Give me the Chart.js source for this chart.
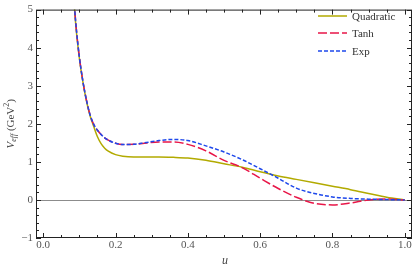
<!DOCTYPE html>
<html>
<head>
<meta charset="utf-8">
<script src="https://cdn.jsdelivr.net/npm/chart.js@4.4.1/dist/chart.umd.min.js"></script>
<style>
  html, body { margin: 0; padding: 0; background: #fff; }
</style>
</head>
<body>
<canvas id="myChart" width="415" height="268"></canvas>
<script>
let uValues = [0.08, 0.09, 0.10, 0.11, 0.12, 0.13, 0.14, 0.15, 0.16, 0.17, 0.18, 0.20, 0.22, 0.25, 0.28, 0.32, 0.36, 0.40, 0.45, 0.50, 0.55, 0.60, 0.65, 0.70, 0.75, 0.80, 0.85, 0.90, 0.95, 1.00];

let quadratic = [5.9, 4.6, 3.72, 3.08, 2.58, 2.2, 1.92, 1.66, 1.48, 1.36, 1.28, 1.19, 1.15, 1.13, 1.13, 1.13, 1.12, 1.10, 1.04, 0.95, 0.86, 0.74, 0.63, 0.54, 0.45, 0.36, 0.27, 0.17, 0.07, 0];
let tanh = [5.9, 4.65, 3.75, 3.1, 2.6, 2.22, 1.98, 1.83, 1.72, 1.63, 1.57, 1.49, 1.455, 1.46, 1.49, 1.52, 1.52, 1.46, 1.29, 1.04, 0.85, 0.57, 0.30, 0.07, -0.09, -0.13, -0.08, 0.0, 0.025, 0];
let exp = [5.9, 4.65, 3.75, 3.1, 2.6, 2.22, 1.98, 1.83, 1.72, 1.63, 1.57, 1.49, 1.455, 1.46, 1.50, 1.56, 1.59, 1.56, 1.42, 1.26, 1.06, 0.82, 0.57, 0.31, 0.17, 0.08, 0.04, 0.02, 0.01, 0];

let seriesNames = ['Quadratic', 'Tanh', 'Exp'];
let seriesColors = ['rgb(178, 170, 0)', 'rgb(232, 22, 72)', 'rgb(30, 72, 235)'];
let seriesDash = [[], [9, 3], [4, 2]];

let xTicks = [0.0, 0.2, 0.4, 0.6, 0.8, 1.0];
let yTicks = [-1, 0, 1, 2, 3, 4, 5];

let serif = "'Liberation Serif', 'Times New Roman', serif";

function toPoints(ys) {
    return uValues.map((u, i) => ({ x: u, y: ys[i] }));
}

// frame, inward ticks, zero line, legend and axis titles
let framePlugin = {
    id: 'frame',
    beforeDatasetsDraw(chart) {
        let c = chart.ctx;
        let a = chart.chartArea;
        let y0 = chart.scales.y.getPixelForValue(0);
        c.save();
        c.strokeStyle = '#8c8c8c';
        c.lineWidth = 1;
        c.beginPath();
        c.moveTo(a.left, Math.round(y0) + 0.5);
        c.lineTo(a.right, Math.round(y0) + 0.5);
        c.stroke();
        c.restore();
    },
    afterDraw(chart) {
        let c = chart.ctx;
        let a = chart.chartArea;
        let xs = chart.scales.x;
        let ys = chart.scales.y;
        c.save();
        c.strokeStyle = '#222';
        c.lineWidth = 1;
        c.strokeRect(a.left + 0.5, a.top + 0.5, a.right - a.left - 1, a.bottom - a.top - 1);

        c.beginPath();
        for (let i = 0; i <= 20; i++) {
            let v = i * 0.05;
            let px = Math.round(xs.getPixelForValue(v)) + 0.5;
            let len = (i % 4 === 0) ? 5 : 3;
            c.moveTo(px, a.bottom); c.lineTo(px, a.bottom - len);
            c.moveTo(px, a.top); c.lineTo(px, a.top + len);
        }
        for (let i = -5; i <= 25; i++) {
            let v = i * 0.2;
            let py = Math.round(ys.getPixelForValue(v)) + 0.5;
            let len = (i % 5 === 0) ? 5 : 3;
            c.moveTo(a.left, py); c.lineTo(a.left + len, py);
            c.moveTo(a.right, py); c.lineTo(a.right - len, py);
        }
        c.stroke();

        // legend
        c.textBaseline = 'middle';
        c.textAlign = 'left';
        c.font = '11px ' + serif;
        let legY = [16, 33, 51];
        seriesNames.forEach((name, i) => {
            c.strokeStyle = seriesColors[i];
            c.lineWidth = 1.5;
            c.setLineDash(seriesDash[i]);
            c.beginPath();
            c.moveTo(318, legY[i]);
            c.lineTo(347, legY[i]);
            c.stroke();
            c.setLineDash([]);
            c.fillStyle = '#333';
            c.fillText(name, 352, legY[i] + 1);
        });

        // x title
        c.fillStyle = '#444';
        c.textAlign = 'center';
        c.font = 'italic 12px ' + serif;
        c.fillText('u', (a.left + a.right) / 2 + 1, 261);

        // y title with subscript and superscript
        let parts = [
            { t: 'V', f: 'italic 11px ' + serif, dy: 0 },
            { t: 'eff', f: 'italic 8px ' + serif, dy: 2.5 },
            { t: ' (GeV', f: '11px ' + serif, dy: 0 },
            { t: '2', f: '8px ' + serif, dy: -4 },
            { t: ')', f: '11px ' + serif, dy: 0 }
        ];
        let total = 0;
        parts.forEach(p => { c.font = p.f; p.w = c.measureText(p.t).width; total += p.w; });
        c.translate(11, (a.top + a.bottom) / 2);
        c.rotate(-Math.PI / 2);
        c.textAlign = 'left';
        let x = -total / 2;
        parts.forEach(p => {
            c.font = p.f;
            c.fillText(p.t, x, p.dy);
            x += p.w;
        });
        c.restore();
    }
};

let ctx = document.getElementById('myChart').getContext('2d');

let chart_veff = new Chart(ctx, {
    type: 'line',
    data: {
        datasets: [
            {
                label: seriesNames[0],
                data: toPoints(quadratic),
                borderColor: seriesColors[0],
                borderDash: seriesDash[0],
                order: 2
            },
            {
                label: seriesNames[1],
                data: toPoints(tanh),
                borderColor: seriesColors[1],
                borderDash: seriesDash[1],
                order: 1
            },
            {
                label: seriesNames[2],
                data: toPoints(exp),
                borderColor: seriesColors[2],
                borderDash: seriesDash[2],
                order: 0
            }
        ]
    },
    options: {
        responsive: false,
        animation: false,
        devicePixelRatio: 1,
        layout: { padding: { top: 5, right: 3, left: 0, bottom: 0 } },
        elements: {
            point: { radius: 0 },
            line: { borderWidth: 1.5, cubicInterpolationMode: 'monotone', fill: false }
        },
        plugins: {
            legend: { display: false },
            tooltip: { enabled: false }
        },
        scales: {
            x: {
                type: 'linear',
                min: -0.02,
                max: 1.02,
                grid: { display: false, drawTicks: false },
                border: { display: false },
                afterBuildTicks: s => { s.ticks = xTicks.map(v => ({ value: v })); },
                afterFit: s => { s.height = 30; },
                ticks: {
                    padding: 1,
                    maxRotation: 0,
                    autoSkip: false,
                    color: '#555',
                    font: { family: serif, size: 11 },
                    callback: v => v.toFixed(1)
                }
            },
            y: {
                min: -1,
                max: 5,
                grid: { display: false, drawTicks: false },
                border: { display: false },
                afterBuildTicks: s => { s.ticks = yTicks.map(v => ({ value: v })); },
                afterFit: s => { s.width = 36; },
                ticks: {
                    padding: 3,
                    autoSkip: false,
                    color: '#555',
                    font: { family: serif, size: 11 },
                    callback: v => v < 0 ? '\u2212' + Math.abs(v) : String(v)
                }
            }
        }
    },
    plugins: [framePlugin]
});
</script>
</body>
</html>
